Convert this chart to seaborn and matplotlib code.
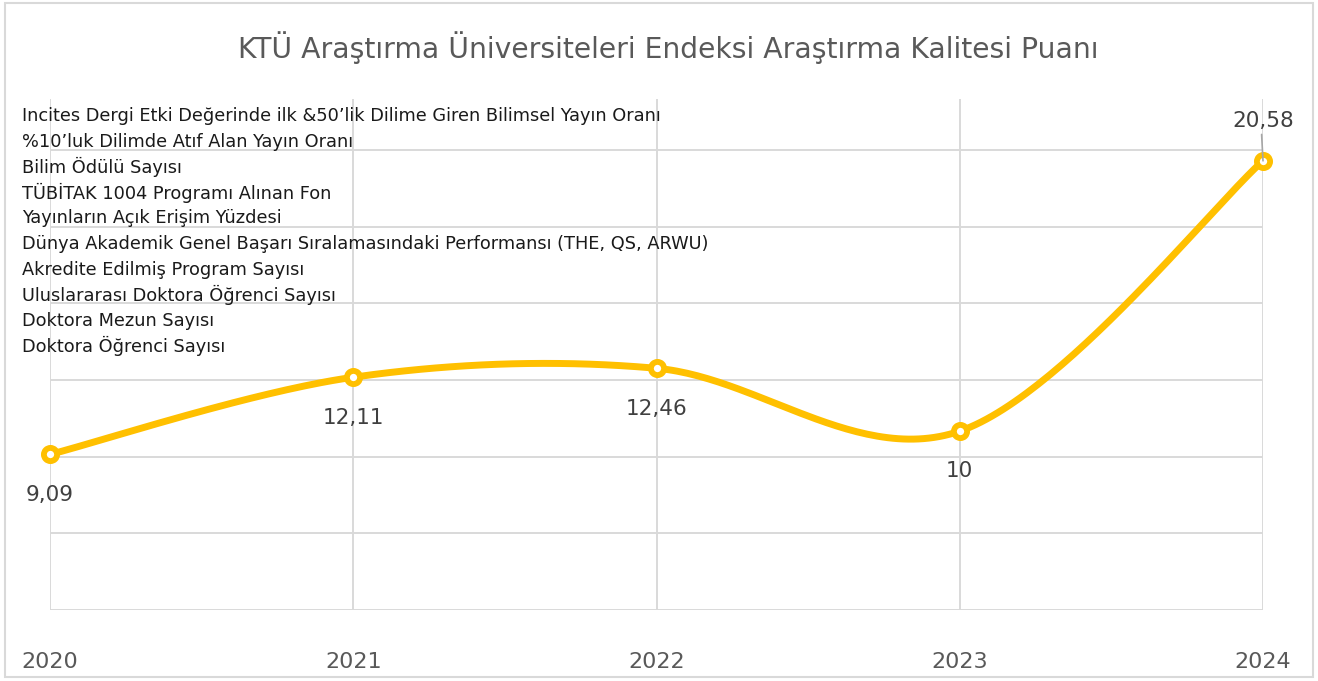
import numpy as np
import pandas as pd
import matplotlib
matplotlib.use("Agg")
import matplotlib.pyplot as plt
from matplotlib.patches import Rectangle
import seaborn as sns

years = ["2020", "2021", "2022", "2023", "2024"]
scores = [9.09, 12.11, 12.46, 10.0, 20.58]
score_labels = ["9,09", "12,11", "12,46", "10", "20,58"]
label_pos = ["below", "below", "below", "below", "above"]
indicators = [
    "Incites Dergi Etki Değerinde ilk &50’lik Dilime Giren Bilimsel Yayın Oranı",
    "%10’luk Dilimde Atıf Alan Yayın Oranı",
    "Bilim Ödülü Sayısı",
    "TÜBİTAK 1004 Programı Alınan Fon",
    "Yayınların Açık Erişim Yüzdesi",
    "Dünya Akademik Genel Başarı Sıralamasındaki Performansı (THE, QS, ARWU)",
    "Akredite Edilmiş Program Sayısı",
    "Uluslararası Doktora Öğrenci Sayısı",
    "Doktora Mezun Sayısı",
    "Doktora Öğrenci Sayısı",
]
title = "KTÜ Araştırma Üniversiteleri Endeksi Araştırma Kalitesi Puanı"

sns.set_theme(style="white")
plt.rcParams['font.family'] = ['DejaVu Sans']

W, H = 1318, 681
fig = plt.figure(figsize=(W / 100, H / 100), dpi=100)
fig.patch.set_facecolor("white")

def fx(px):
    return px / W

def fy(py):
    return 1 - py / H

left, right, top, bottom = 50, 1263, 99, 610
ax = fig.add_axes([fx(left), fy(bottom), fx(right) - fx(left), fy(top) - fy(bottom)])

# Smoothed curve (Excel-like Catmull-Rom Bezier) built from the data
xs = np.arange(len(scores), dtype=float)
ys = np.array(scores, dtype=float)
pts = np.column_stack([xs, ys])
ext = np.vstack([pts[0], pts, pts[-1]])
curve = []
t = np.linspace(0, 1, 60)
for i in range(len(pts) - 1):
    p0, p1, p2, p3 = ext[i], ext[i + 1], ext[i + 2], ext[i + 3]
    c1 = p1 + (p2 - p0) / 6
    c2 = p2 - (p3 - p1) / 6
    seg = ((1 - t) ** 3)[:, None] * p1 + (3 * (1 - t) ** 2 * t)[:, None] * c1 \
        + (3 * (1 - t) * t ** 2)[:, None] * c2 + (t ** 3)[:, None] * p2
    curve.append(seg if i == 0 else seg[1:])
curve = np.vstack(curve)
cdf = pd.DataFrame({"x": curve[:, 0], "y": curve[:, 1]})
sns.lineplot(data=cdf, x="x", y="y", ax=ax, color="#FFC000", linewidth=5,
             sort=False, estimator=None, zorder=3)
for ln in ax.lines:
    ln.set_clip_on(False)

df = pd.DataFrame({"x": xs, "y": ys})
ax.plot(df["x"], df["y"], linestyle="none", marker="o", markersize=9.5,
        markerfacecolor="white", markeredgecolor="#FFC000", markeredgewidth=4.2,
        zorder=4, clip_on=False)

for xi, yi, lab, pos in zip(xs, ys, score_labels, label_pos):
    if pos == "below":
        ax.annotate(lab, (xi, yi), xytext=(0, -29), textcoords="offset points",
                    ha="center", va="center", fontsize=15.5, color="#404040",
                    annotation_clip=False, zorder=5)
    else:
        ax.annotate(lab, (xi, yi), xytext=(0, 29), textcoords="offset points",
                    ha="center", va="center", fontsize=15.5, color="#404040",
                    annotation_clip=False, zorder=5)
        ax.annotate("", xy=(xi, yi), xytext=(-1, 19), textcoords="offset points",
                    annotation_clip=False, zorder=6,
                    arrowprops=dict(arrowstyle="-", color="#A6A6A6", lw=1.2,
                                    shrinkA=0, shrinkB=0))

ax.set_xlim(0, len(years) - 1)
ax.set_ylim(3, 23)
ax.set_xticks(xs)
ax.set_xticklabels(years)
ax.set_yticks(np.arange(3, 22, 3))
ax.set_yticklabels([])
ax.tick_params(axis="x", length=0, pad=30, labelsize=16, labelcolor="#595959")
ax.tick_params(axis="y", length=0)
ax.grid(True, color="#D9D9D9", linewidth=1.4)
ax.set_axisbelow(True)
for s in ax.spines.values():
    s.set_visible(False)
ax.set_xlabel("")
ax.set_ylabel("")
ax.set_facecolor("none")

fig.text(0.507, fy(48), title, ha="center", va="center", fontsize=20.3, color="#595959")

y0 = 116
for i, line in enumerate(indicators):
    fig.text(fx(22), fy(y0 + i * 25.6), line, ha="left", va="center",
             fontsize=12.8, color="#1A1A1A")

fig.patches.append(Rectangle((fx(5), fy(677)), fx(1313) - fx(5), fy(3) - fy(677),
                             transform=fig.transFigure, fill=False,
                             edgecolor="#D9D9D9", linewidth=1.5))

fig.savefig("out.png", dpi=100)
